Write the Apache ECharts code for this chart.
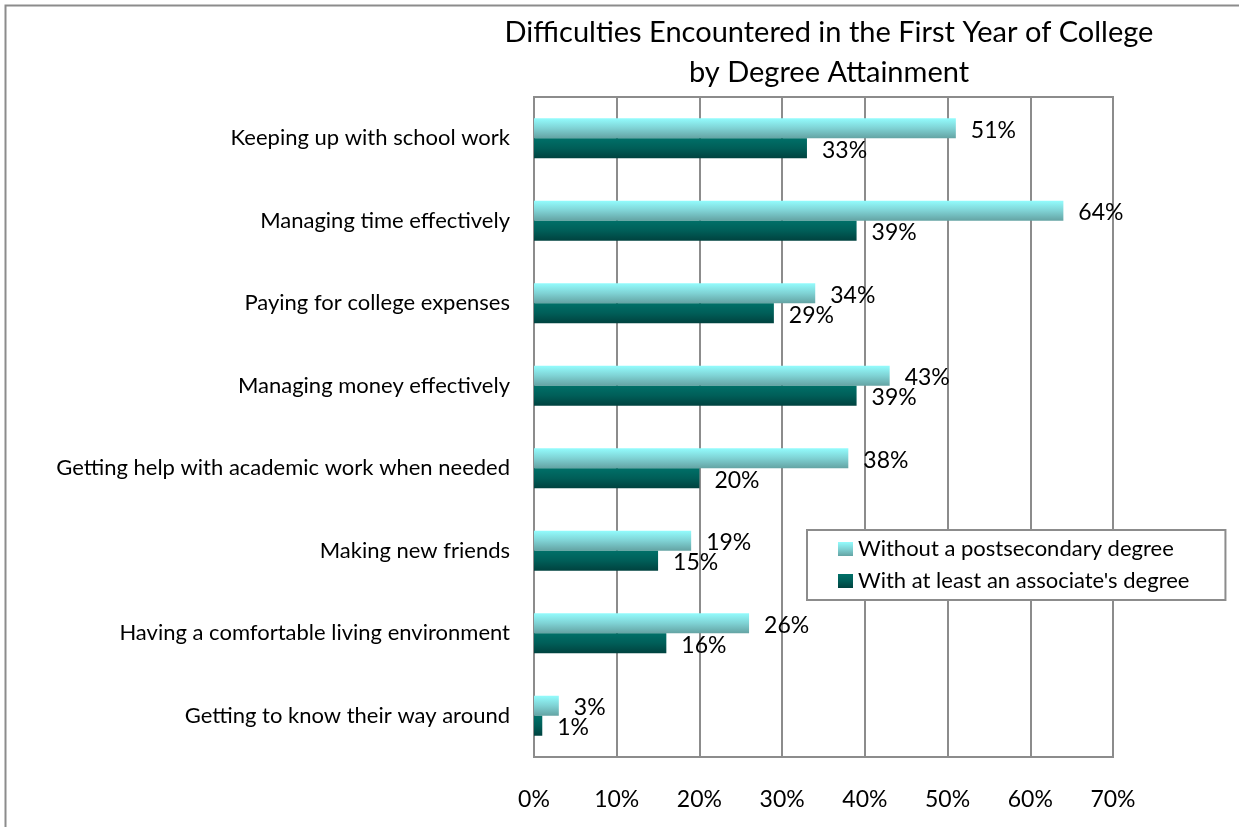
<!DOCTYPE html>
<html>
<head>
<meta charset="utf-8">
<script src="https://cdn.jsdelivr.net/npm/echarts@6/dist/echarts.min.js"></script>
<style>
  html, body { margin: 0; padding: 0; background: #fff; }
  #chart { width: 1239px; height: 827px; }
</style>
</head>
<body>
<div id="chart"></div>
<script>
// Survey categories (top to bottom)
const categories = [
  'Keeping up with school work',
  'Managing time effectively',
  'Paying for college expenses',
  'Managing money effectively',
  'Getting help with academic work when needed',
  'Making new friends',
  'Having a comfortable living environment',
  'Getting to know their way around'
];
const seriesNames = ['Without a postsecondary degree', "With at least an associate's degree"];
const withoutDegree = [51, 64, 34, 43, 38, 19, 26, 3];
const withDegree = [33, 39, 29, 39, 20, 15, 16, 1];
const axisTicks = [0, 10, 20, 30, 40, 50, 60, 70];

const FONT = 'Lato, "Noto Sans", sans-serif';

const lightFill = new echarts.graphic.LinearGradient(0, 0, 0, 1, [
  { offset: 0, color: '#93fcfd' },
  { offset: 0.5, color: '#7fd2d4' },
  { offset: 1, color: '#64a3a3' }
]);
const darkFill = new echarts.graphic.LinearGradient(0, 0, 0, 1, [
  { offset: 0, color: '#007068' },
  { offset: 0.5, color: '#005e58' },
  { offset: 1, color: '#00423f' }
]);

const chart = echarts.init(document.getElementById('chart'), null, { renderer: 'canvas' });

function barLabel() {
  return {
    show: true,
    position: 'right',
    distance: 15,
    offset: [0, 2],
    formatter: p => p.value + '%',
    fontFamily: FONT,
    fontSize: 23,
    color: '#000'
  };
}

chart.setOption({
  animation: false,
  backgroundColor: '#fff',
  graphic: [{
    type: 'rect',
    shape: { x: 5.5, y: 5.5, width: 1260, height: 860 },
    style: { fill: 'none', stroke: '#8c8c8c', lineWidth: 2 },
    silent: true
  }],
  title: {
    text: 'Difficulties Encountered in the First Year of College\nby Degree Attainment',
    left: 824,
    top: 8,
    textAlign: 'center',
    textStyle: { fontFamily: FONT, fontSize: 29, fontWeight: 'normal', color: '#000', lineHeight: 40 }
  },
  legend: {
    orient: 'vertical',
    left: 807,
    top: 530,
    padding: [8, 36, 8, 31],
    itemGap: 10,
    itemWidth: 15,
    itemHeight: 14,
    icon: 'rect',
    borderColor: '#8c8c8c',
    borderWidth: 2,
    backgroundColor: '#fff',
    textStyle: { fontFamily: FONT, fontSize: 22, color: '#000' },
    data: seriesNames
  },
  grid: {
    left: 534,
    top: 97,
    width: 579,
    height: 660,
    show: true,
    borderColor: '#8c8c8c',
    borderWidth: 2,
    containLabel: false
  },
  xAxis: {
    type: 'value',
    min: axisTicks[0],
    max: axisTicks[axisTicks.length - 1],
    interval: 10,
    axisLine: { show: false },
    axisTick: { show: false },
    splitLine: { show: true, lineStyle: { color: '#8c8c8c', width: 2 } },
    axisLabel: {
      formatter: v => v + '%',
      fontFamily: FONT,
      fontSize: 23,
      color: '#000',
      margin: 31
    }
  },
  yAxis: {
    type: 'category',
    inverse: true,
    data: categories,
    axisLine: { show: true, lineStyle: { color: '#8c8c8c', width: 2 } },
    axisTick: { show: false },
    axisLabel: { fontFamily: FONT, fontSize: 22, color: '#000', margin: 24 }
  },
  series: [
    {
      name: seriesNames[0],
      type: 'bar',
      data: withoutDegree,
      barWidth: 20,
      barGap: '0%',
      itemStyle: { color: lightFill },
      label: barLabel()
    },
    {
      name: seriesNames[1],
      type: 'bar',
      data: withDegree,
      barWidth: 20,
      barGap: '0%',
      itemStyle: { color: darkFill },
      label: barLabel()
    }
  ]
});
</script>
</body>
</html>
